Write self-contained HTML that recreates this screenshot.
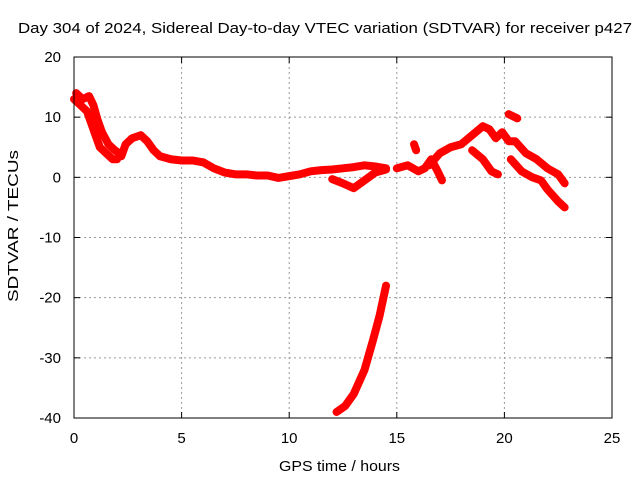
<!DOCTYPE html>
<html><head><meta charset="utf-8"><style>
body{margin:0;background:#fff;}
svg{display:block;font-family:"Liberation Sans",sans-serif;}
</style></head><body>
<svg id="chart" width="640" height="480" viewBox="0 0 640 480">
<rect width="640" height="480" fill="#fff"/>
<text x="18" y="33" font-size="15" textLength="614" lengthAdjust="spacingAndGlyphs">Day 304 of 2024, Sidereal Day-to-day VTEC variation (SDTVAR) for receiver p427</text>
<text x="279" y="471" font-size="15" textLength="121" lengthAdjust="spacingAndGlyphs">GPS time / hours</text>
<text transform="translate(18,302) rotate(-90)" font-size="15" textLength="152" lengthAdjust="spacingAndGlyphs">SDTVAR / TECUs</text>
<g id="grid"></g>
<g id="series"></g>
<rect x="74" y="57" width="538" height="361" fill="none" stroke="#000" stroke-width="1"/>
<g id="ticks"></g>
</svg>
<script>
const xTicks=[0,5,10,15,20,25];
const yTicks=[20,10,0,-10,-20,-30,-40];
const seg1=[[0,13],[0.3,12],[0.6,11],[0.8,9],[1.0,7],[1.2,5],[1.5,4],[1.8,3],[2.0,3]];
const seg2=[[0.1,14],[0.4,13],[0.7,13.5],[0.9,12],[1.1,9.5],[1.3,7.5],[1.6,5.5],[1.9,4.5],[2.1,4]];
const seg3=[[2.2,3.5],[2.4,5.5],[2.7,6.5],[3.1,7],[3.4,6],[3.7,4.5],[4,3.5],[4.5,3],[5,2.8],[5.5,2.8],[6,2.5],[6.5,1.5],[7,0.8],[7.5,0.5],[8,0.5],[8.5,0.3],[9,0.3],[9.5,-0.1],[10,0.2],[10.5,0.5],[11,1],[11.5,1.2],[12,1.3],[12.5,1.5],[13,1.7],[13.5,2],[14,1.8],[14.5,1.5]];
const seg4=[[12,-0.3],[12.5,-1],[13,-1.8],[13.5,-0.5],[14,0.8],[14.5,1.3]];
const seg5=[[15,1.5],[15.5,2],[16,1],[16.3,1.5],[16.6,3],[16.9,1],[17.1,-0.5]];
const seg6=[[16.5,2],[17,4],[17.5,5],[18,5.5],[18.5,7],[19,8.5],[19.3,8],[19.6,6.5],[19.9,7.5],[20.2,6],[20.5,6],[21,4],[21.5,3],[22,1.5],[22.5,0.5],[22.8,-1]];
const seg7=[[18.5,4.5],[19,3],[19.4,1],[19.7,0.5]];
const seg8=[[20.3,3],[20.8,1],[21.3,0],[21.7,-0.5],[22,-2],[22.5,-4],[22.8,-5]];
const seg9=[[20.2,10.5],[20.6,9.8]];
const seg10=[[15.8,5.5],[15.9,4.5]];
const seg11=[[12.2,-39],[12.6,-38],[13,-36],[13.5,-32],[13.9,-27],[14.2,-23],[14.5,-18]];
const segments=[seg1,seg2,seg3,seg4,seg5,seg6,seg7,seg8,seg9,seg10,seg11];
const X0=74,X1=612,Y0=418,Y1=57;
const xs=v=>X0+(v-0)/25*(X1-X0);
const ys=v=>Y0-(v+40)/60*(Y0-Y1);
const NS="http://www.w3.org/2000/svg";
const grid=document.getElementById('grid'),ticks=document.getElementById('ticks'),ser=document.getElementById('series');
function mk(t,a,p){const e=document.createElementNS(NS,t);for(const k in a)e.setAttribute(k,a[k]);p.appendChild(e);return e;}
xTicks.forEach(t=>{const x=xs(t);
 if(t>0&&t<25){const g=mk('line',{x1:x,x2:x,y1:Y1,y2:Y0,stroke:'#999','stroke-dasharray':'2,3'},grid);
 }
 mk('line',{x1:x,x2:x,y1:Y0,y2:Y0-6,stroke:'#000'},ticks);mk('line',{x1:x,x2:x,y1:Y1,y2:Y1+6,stroke:'#000'},ticks);
 const l=mk('text',{x:x,y:443,'font-size':15,'text-anchor':'middle'},ticks);l.textContent=t;
 });
yTicks.forEach(t=>{const y=ys(t);
 if(t<20&&t>-40){const g=mk('line',{x1:X0,x2:X1,y1:y,y2:y,stroke:'#999','stroke-dasharray':'2,3'},grid);
 }
 mk('line',{x1:X0,x2:X0+6,y1:y,y2:y,stroke:'#000'},ticks);mk('line',{x1:X1,x2:X1-6,y1:y,y2:y,stroke:'#000'},ticks);
 const l=mk('text',{x:61,y:y+5,'font-size':15,'text-anchor':'end'},ticks);l.textContent=t;
 });
segments.forEach(s=>{const p=mk('polyline',{points:s.map(d=>xs(d[0])+','+ys(d[1])).join(' '),fill:'none',stroke:'#f00','stroke-width':8,'stroke-linejoin':'round','stroke-linecap':'round'},ser);
 });
</script>
</body></html>
